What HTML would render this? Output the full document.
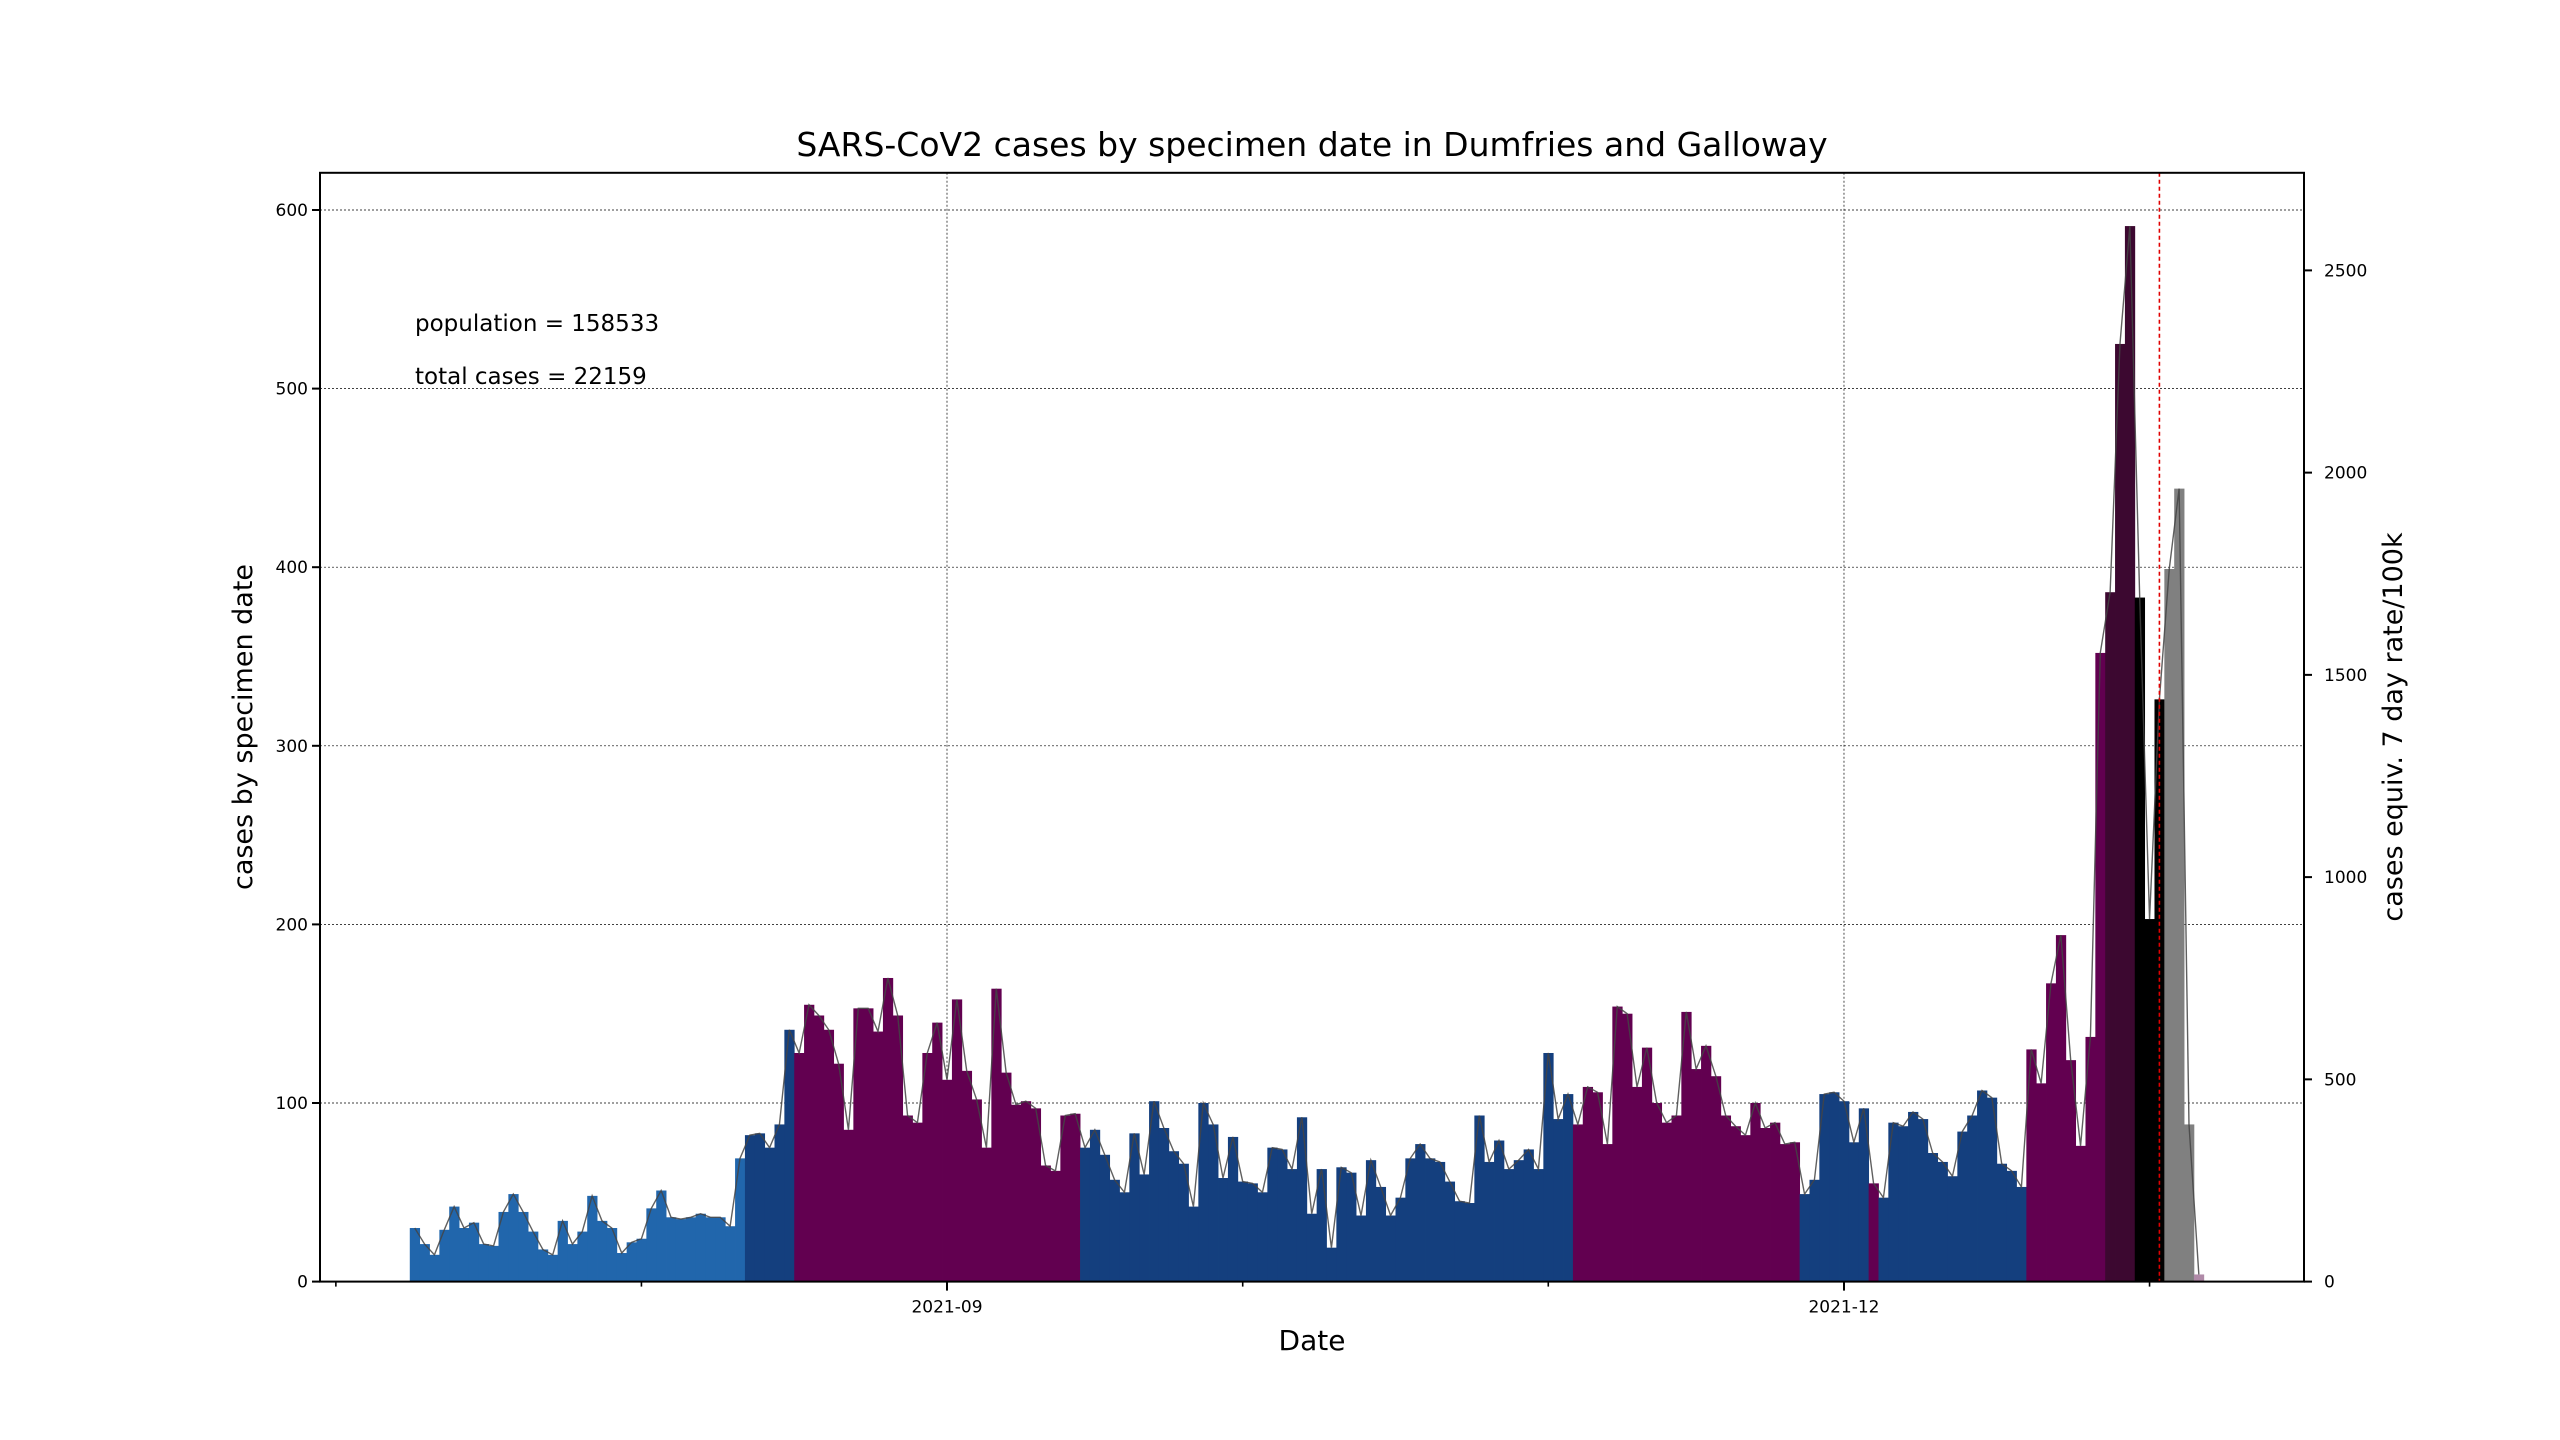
<!DOCTYPE html>
<html><head><meta charset="utf-8"><title>SARS-CoV2 cases Dumfries and Galloway</title>
<style>html,body{margin:0;padding:0;background:#fff}svg{display:block}text{font-family:"DejaVu Sans","Liberation Sans",sans-serif;fill:#000}</style>
</head><body>
<svg id="chart" width="2560" height="1440" viewBox="0 0 2560 1440" xmlns="http://www.w3.org/2000/svg">
<rect width="2560" height="1440" fill="#fff"/>
<g id="grid"></g>
<g id="bars"></g>
<g id="line"></g>
<g id="axes"></g>
<text x="1312" y="156" font-size="33" text-anchor="middle">SARS-CoV2 cases by specimen date in Dumfries and Galloway</text>
<text x="415" y="331" font-size="23">population = 158533</text>
<text x="415" y="384" font-size="23">total cases = 22159</text>
<text x="1312" y="1350" font-size="28" text-anchor="middle">Date</text>
<text x="0" y="0" font-size="27" text-anchor="middle" transform="translate(252,727) rotate(-90)">cases by specimen date</text>
<text x="0" y="0" font-size="27" text-anchor="middle" transform="translate(2402,727) rotate(-90)">cases equiv. 7 day rate/100k</text>
</svg>
<script>
// day offsets relative to 2021-09-01; first bar is day -54 (2021-07-09)
const firstDay = -54;
const cases = [30,21,15,29,42,30,33,21,20,39,49,39,28,18,15,34,21,28,48,34,30,16,22,24,41,51,36,35,36,38,36,36,31,69,82,83,75,88,141,
128,155,149,141,122,85,153,153,140,170,149,93,89,128,145,113,158,118,102,75,164,117,99,101,97,65,62,93,94,
75,85,71,57,50,83,60,101,86,73,66,42,100,88,58,81,56,55,50,75,74,63,92,38,63,19,64,61,37,68,53,37,47,69,77,69,67,56,45,44,93,67,79,63,68,74,63,128,91,105,
88,109,106,77,154,150,109,131,100,89,93,151,119,132,115,93,87,82,100,86,89,77,78,
49,57,105,106,101,78,97,55,
47,89,87,95,91,72,67,59,84,93,107,103,66,62,53,
130,111,167,194,124,76,137,352,386,525,591,383,203,326,399,444,88,4];
const bandCounts = [["lb",34],["db",5],["pu",29],["db",50],["pu",23],["db",7],["pu",1],["db",15],["pu",8],["dp",3],["bk",3],["gy",3],["lt",1]];
const bandColors = {lb:"#2166ac",db:"#143f7e",pu:"#620050",dp:"#3c0830",bk:"#000000",gy:"#808080",lt:"#b08aa8"};
const leftTicks = [0,100,200,300,400,500,600];
const rightTicks = [0,500,1000,1500,2000,2500];
const majorTickDays = [0,91];
const majorTickLabels = ["2021-09","2021-12"];
const minorTickDays = [-62,-31,30,61,122];
const population = 158533;
const markerDay = 123;

const NS="http://www.w3.org/2000/svg";
const L=320,R=2304,T=172.8,B=1281.6;
const pxPerDay=9.857, x0=947, pxPerCase=1.786;
function X(d){return x0+d*pxPerDay;}
function Y(v){return B-v*pxPerCase;}
function rateToCases(r){return r*population/7/1e5;}
function mk(tag,attrs,parent){const e=document.createElementNS(NS,tag);for(const k in attrs)e.setAttribute(k,attrs[k]);parent.appendChild(e);return e;}

const bands=[];bandCounts.forEach(([b,n])=>{for(let i=0;i<n;i++)bands.push(b);});
const gBars=document.getElementById('bars');
cases.forEach((v,i)=>{const d=firstDay+i;
 const r=mk('rect',{x:X(d-0.5),y:Y(v),width:pxPerDay+0.4,height:B-Y(v),fill:bandColors[bands[i]]||"#143f7e"},gBars);
 
 
});
const gLine=document.getElementById('line');
const pl=mk('polyline',{points:cases.map((v,i)=>X(firstDay+i)+","+Y(v)).join(" "),fill:"none",stroke:"#444",'stroke-width':1.4,'stroke-opacity':0.85},gLine);



const gGrid=document.getElementById('grid');
leftTicks.forEach(t=>{if(t===0)return;const l=mk('line',{x1:L,x2:R,y1:Y(t),y2:Y(t),stroke:"#000",'stroke-width':0.7,'stroke-dasharray':"2,2"},gGrid);
 
 });
majorTickDays.forEach(d=>{const l=mk('line',{x1:X(d),x2:X(d),y1:T,y2:B,stroke:"#000",'stroke-width':0.7,'stroke-dasharray':"2,2"},gGrid);
 
 });

const gAx=document.getElementById('axes');
const ml=mk('line',{x1:X(markerDay),x2:X(markerDay),y1:T,y2:B,stroke:"#e00000",'stroke-width':1.6,'stroke-dasharray':"4,3"},gAx);


const fr=mk('rect',{x:L,y:T,width:R-L,height:B-T,fill:"none",stroke:"#000",'stroke-width':2},gAx);


leftTicks.forEach(t=>{mk('line',{x1:L-8,x2:L,y1:Y(t),y2:Y(t),stroke:"#000",'stroke-width':2},gAx);
 const tx=mk('text',{x:L-12,y:Y(t)+6,'font-size':17,'text-anchor':'end'},gAx);tx.textContent=t;
 
 });
rightTicks.forEach(t=>{const y=Y(rateToCases(t));mk('line',{x1:R,x2:R+8,y1:y,y2:y,stroke:"#000",'stroke-width':2},gAx);
 const tx=mk('text',{x:R+20,y:y+6,'font-size':17},gAx);tx.textContent=t;
 
 });
majorTickDays.forEach((d,i)=>{mk('line',{x1:X(d),x2:X(d),y1:B,y2:B+9,stroke:"#000",'stroke-width':2},gAx);
 const tx=mk('text',{x:X(d),y:B+31,'font-size':17,'text-anchor':'middle'},gAx);tx.textContent=majorTickLabels[i];
 
 });
minorTickDays.forEach(d=>{mk('line',{x1:X(d),x2:X(d),y1:B,y2:B+5,stroke:"#000",'stroke-width':1.6},gAx);});
</script>
</body></html>
